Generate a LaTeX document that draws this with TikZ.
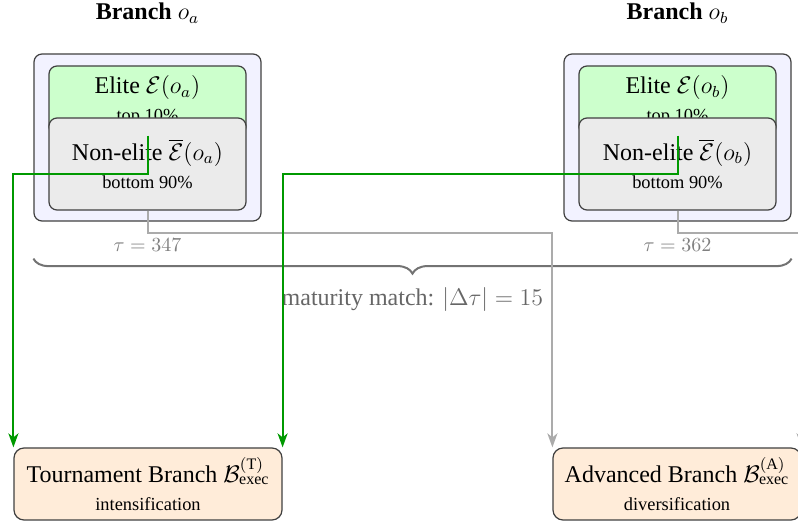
\documentclass[tikz,border=0pt]{standalone}
\usepackage{fontspec}
\setmainfont{Liberation Serif}
\usetikzlibrary{arrows.meta,decorations.pathreplacing,calc}
\newcommand{\subfnt}{\fontsize{9.2}{11}\selectfont}
\begin{document}
\begin{tikzpicture}[x=0.5pt,y=-0.5pt,
  mainfnt/.style={font=\fontsize{12}{14}\selectfont},
  outerbox/.style={draw=black!75, fill=blue!5, rounded corners=4pt, line width=0.6pt,
    minimum width=113.5pt, minimum height=83.5pt, inner sep=0pt},
  setbox/.style={draw=black!75, rounded corners=4pt, line width=0.6pt,
    minimum width=98.5pt, align=center, inner sep=0pt, mainfnt},
  elitebox/.style={setbox, fill=green!20, minimum height=34.5pt},
  nonbox/.style={setbox, fill=black!8, minimum height=46pt},
  execbox/.style={draw=black!75, fill=orange!15, rounded corners=5pt, line width=0.6pt,
    minimum height=36pt, align=center, inner sep=0pt, mainfnt},
  titlefnt/.style={font=\fontsize{12}{14}\selectfont},
  taulabel/.style={text=black!50, font=\fontsize{10}{12}\selectfont},
  elitearrow/.style={draw=green!60!black, line width=1pt,
    -{Stealth[length=7pt,width=5pt,inset=2pt]}},
  advarrow/.style={draw=black!33, line width=1pt,
    -{Stealth[length=7pt,width=5pt,inset=2pt]}},
  bracestyle/.style={draw=black!55, line width=1pt, decorate,
    decoration={brace, mirror, amplitude=7.5pt}}
]
\useasboundingbox (0,0) rectangle (798,523);
\clip (0,0) rectangle (798,523);

% titles
\node[titlefnt] (titleA) at (147.5,13) {\textbf{Branch} $o_a$};
\node[titlefnt] (titleB) at (677.5,13) {\textbf{Branch} $o_b$};

% branch a
\node[outerbox] (outerA) at (147.5,137.5) {};
\node[elitebox] (eliteA) at (147.5,100.5) {Elite $\mathcal{E}(o_a)$\\{\subfnt top 10\%}};
\node[nonbox] (nonA) at (147.5,164) {Non-elite $\overline{\mathcal{E}}(o_a)$\\{\subfnt bottom 90\%}};

% branch b
\node[outerbox] (outerB) at (677.5,137.5) {};
\node[elitebox] (eliteB) at (677.5,100.5) {Elite $\mathcal{E}(o_b)$\\{\subfnt top 10\%}};
\node[nonbox] (nonB) at (677.5,164) {Non-elite $\overline{\mathcal{E}}(o_b)$\\{\subfnt bottom 90\%}};

% maturity
\node[taulabel] (tauA) at (147.5,245) {$\tau = 347$};
\node[taulabel] (tauB) at (677.5,245) {$\tau = 362$};
\coordinate (brL) at ($(outerA.south west)+(0,37)$);
\coordinate (brR) at ($(outerB.south east)+(0,37)$);
\draw[bracestyle] (brL) -- (brR);
\node[text=black!60, font=\fontsize{12}{14}\selectfont] (match) at (412.5,300)
  {maturity match: $|\Delta\tau| = 15$};

% execution branches
\node[execbox, minimum width=134pt] (tour) at (148,484)
  {Tournament Branch $\mathcal{B}^{(\mathrm{T})}_{\mathrm{exec}}$\\{\subfnt intensification}};
\node[execbox, minimum width=124pt] (adv) at (677,484)
  {Advanced Branch $\mathcal{B}^{(\mathrm{A})}_{\mathrm{exec}}$\\{\subfnt diversification}};

% connectors
\draw[advarrow] (nonA.south) -- ++(0,22) -| (adv.north west);
\draw[advarrow] (nonB.south) -- ++(0,22) -| (adv.north east);
\draw[elitearrow] (eliteA.south) -- ++(0,38) -| (tour.north west);
\draw[elitearrow] (eliteB.south) -- ++(0,38) -| (tour.north east);
\end{tikzpicture}
\end{document}
